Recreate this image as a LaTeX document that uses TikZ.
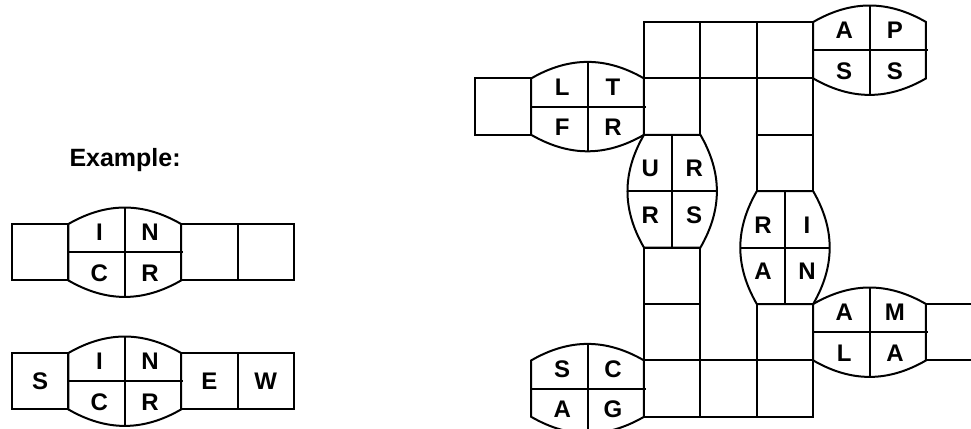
\documentclass[tikz,border=0pt]{standalone}
\usepackage{fontspec}
\setmainfont{Liberation Sans}
\usepackage{tikz}
\usetikzlibrary{positioning}

\tikzset{
  cellline/.style={line width=2pt},
  letter/.style={font=\fontsize{24}{28}\selectfont\bfseries, inner sep=0pt},
}

% horizontal lens: name, x, y (top left), letters ul, ur, ll, lr
\newcommand{\hlens}[7]{%
  \draw[cellline] (#2,#3) to[bend left=30] (#2+2,#3) -- (#2+2,#3+1)
    to[bend left=30] (#2,#3+1) -- cycle;
  \draw[cellline] (#2+1,#3-0.29) -- (#2+1,#3+1.29);
  \draw[cellline] (#2,#3+0.5) -- (#2+2.04,#3+0.5);
  \node[letter] (#1ul) at (#2+0.55,#3+0.15) {#4};
  \node[letter] (#1ur) at (#2+1.45,#3+0.15) {#5};
  \node[letter] (#1ll) at (#2+0.55,#3+0.87) {#6};
  \node[letter] (#1lr) at (#2+1.45,#3+0.87) {#7};
}
% vertical lens: name, x, y (top left), letters ul, ur, ll, lr
\newcommand{\vlens}[7]{%
  \draw[cellline] (#2,#3) -- (#2+1,#3) to[bend left=30] (#2+1,#3+2)
    -- (#2,#3+2) to[bend left=30] cycle;
  \draw[cellline] (#2-0.29,#3+1) -- (#2+1.29,#3+1);
  \draw[cellline] (#2+0.5,#3) -- (#2+0.5,#3+2);
  \node[letter] (#1ul) at (#2+0.11,#3+0.6) {#4};
  \node[letter] (#1ur) at (#2+0.89,#3+0.6) {#5};
  \node[letter] (#1ll) at (#2+0.11,#3+1.42) {#6};
  \node[letter] (#1lr) at (#2+0.89,#3+1.42) {#7};
}

\begin{document}
\begin{tikzpicture}[x=56.4pt, y=-56.4pt]
  \useasboundingbox (-11.418,-0.39) rectangle (5.798,7.216);

  % --- Example (left) ---
  \node[font=\fontsize{25}{30}\selectfont\bfseries] (extitle) at (-9.2,2.45) {Example:};
  \begin{scope}[shift={(-11.206,3.582)}]
    \foreach \cx in {0,3,4}
      \draw[cellline] (\cx,0) rectangle ++(1,1);
    \hlens{exa}{1}{0}{I}{N}{C}{R}
  \end{scope}
  \begin{scope}[shift={(-11.206,5.869)}]
    \foreach \cx in {0,3,4}
      \draw[cellline] (\cx,0) rectangle ++(1,1);
    \hlens{exb}{1}{0}{I}{N}{C}{R}
    \node[letter] (exS) at (0.5,0.5) {S};
    \node[letter] (exE) at (3.5,0.5) {E};
    \node[letter] (exW) at (4.5,0.5) {W};
  \end{scope}

  % --- Puzzle (right) ---
  \foreach \cx/\cy in {0/0,1/0,2/0,-3/1,0/1,2/1,2/2,0/4,0/5,2/5,0/6,1/6,2/6}
    \draw[cellline] (\cx,\cy) rectangle ++(1,1);
  % open cell at the right edge
  \draw[cellline] (5.798,5) -- (5,5) -- (5,6) -- (5.798,6);
  % Lenses
  \hlens{aps}{3}{0}{A}{P}{S}{S}
  \hlens{ltf}{-2}{1}{L}{T}{F}{R}
  \vlens{urr}{0}{2}{U}{R}{R}{S}
  \vlens{ria}{2}{3}{R}{I}{A}{N}
  \hlens{aml}{3}{5}{A}{M}{L}{A}
  \hlens{sca}{-2}{6}{S}{C}{A}{G}
\end{tikzpicture}
\end{document}
